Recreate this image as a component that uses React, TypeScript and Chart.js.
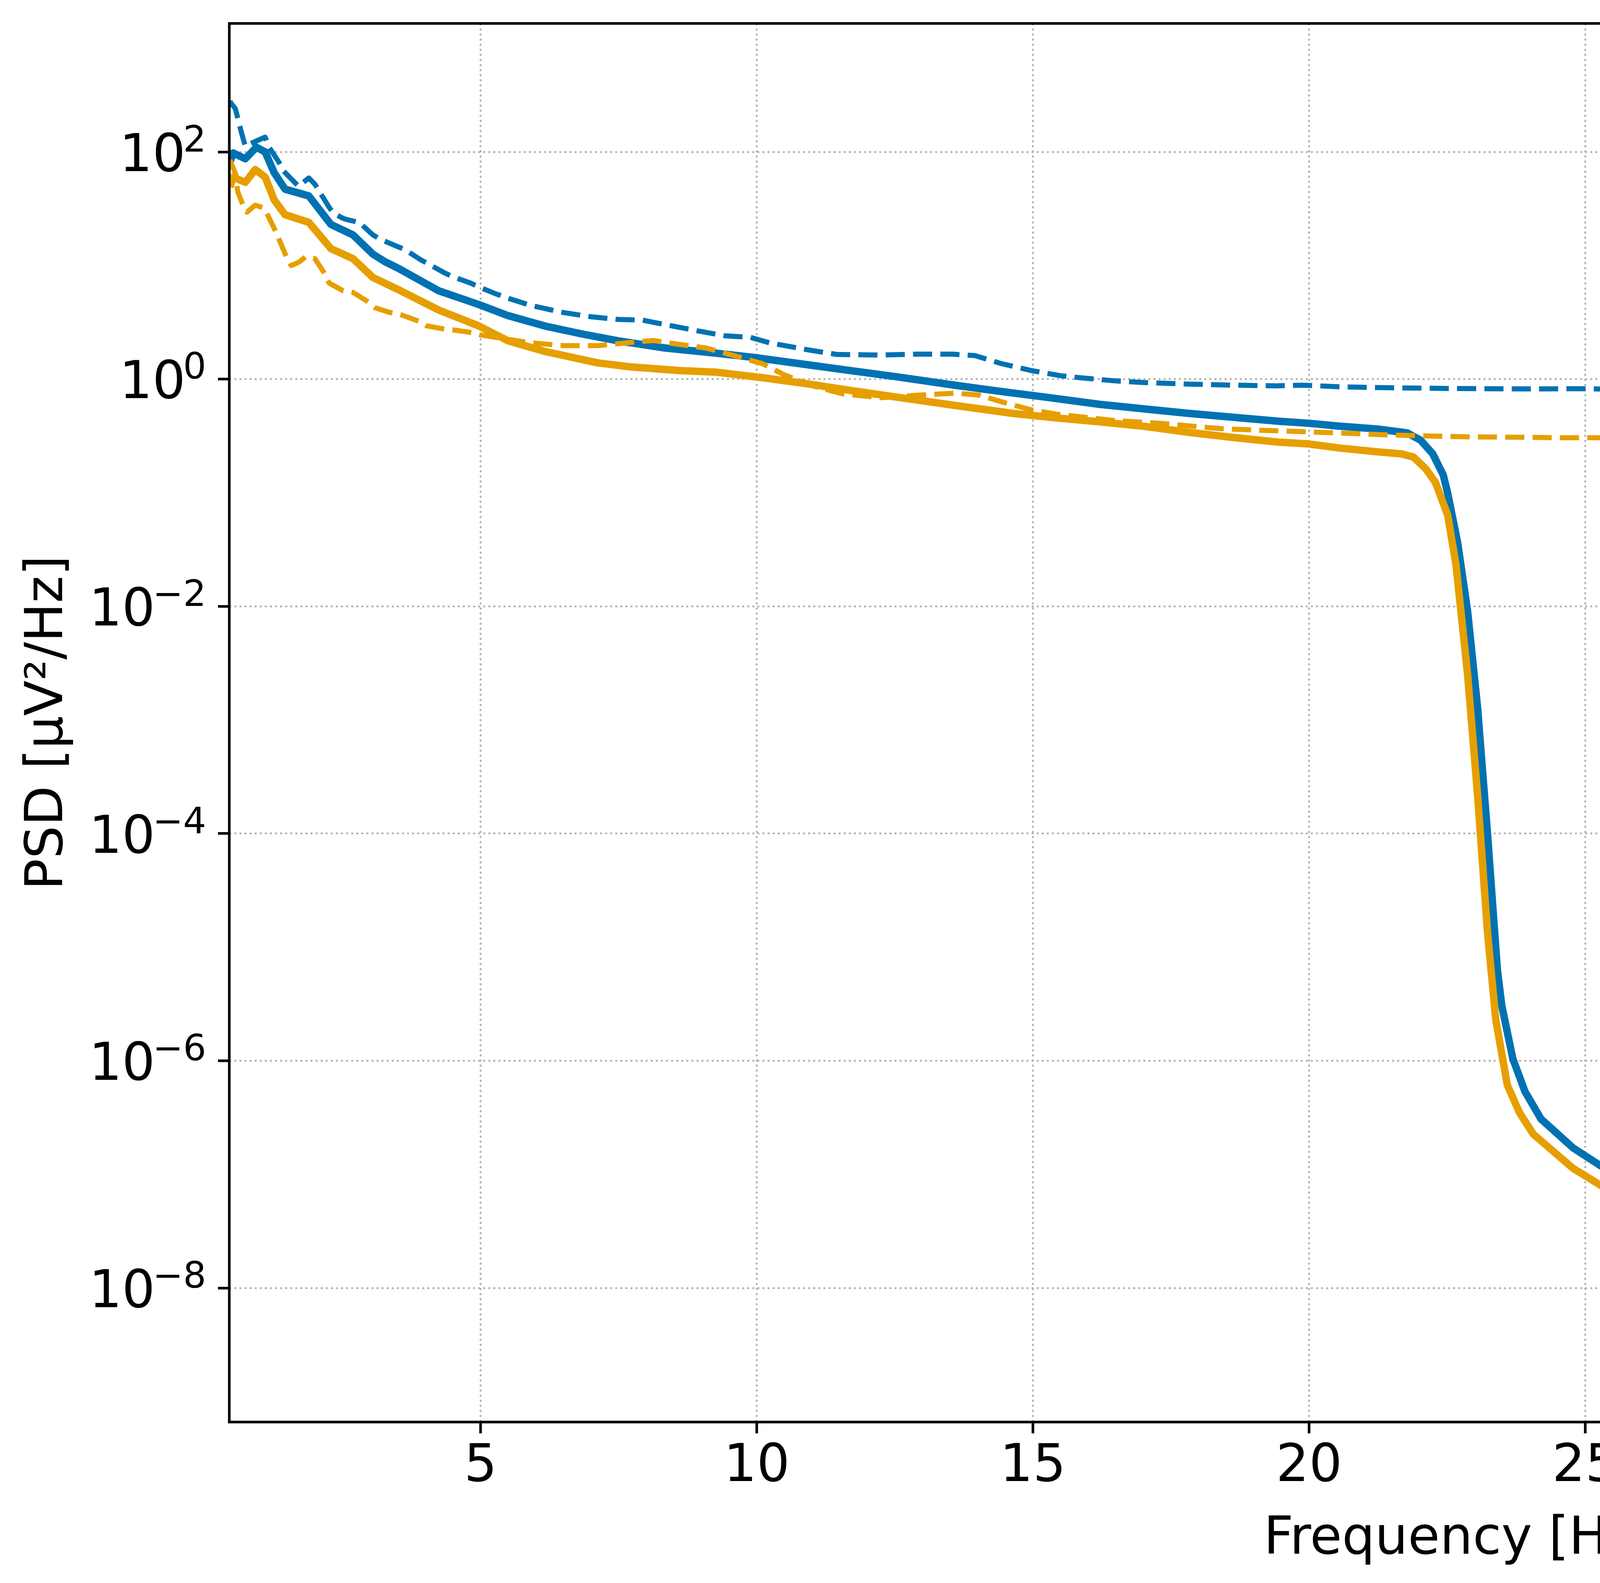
import React, { useEffect, useRef } from 'react';
import { Chart, registerables } from 'chart.js';

Chart.register(...registerables);

const W = 7031;
const H = 4052;
const FONT = "'DejaVu Sans', sans-serif";

// ---- data (frequency in Hz, PSD in µV²/Hz) ----
const rawFpzFreq = [0.46, 0.49, 0.56, 0.67, 0.74, 0.81, 1.1, 1.17, 1.35, 1.43, 1.7, 1.89, 2.0, 2.25, 2.33, 2.51, 2.63, 2.8, 3.05, 3.19, 3.48, 3.63, 3.92, 4.06, 4.35, 4.49, 4.82, 4.96, 5.29, 5.5, 5.9, 6.44, 6.98, 7.5, 7.93, 8.34, 8.88, 9.42, 9.89, 10.23, 10.9, 11.45, 12.26, 12.94, 13.55, 13.95, 14.43, 14.97, 15.51, 15.94, 16.48, 17.02, 17.83, 18.64, 19.4, 19.89, 20.54, 21.35, 22.43, 23.91, 24.92, 25.93, 26.8, 28.24, 29.68, 31.13, 32.57, 34.01, 35.17, 36.9, 38.34, 39.21, 39.93, 40.65, 41.95, 43.4, 45];
const rawFpzPsd = [280, 265, 240, 148, 112, 117, 135, 110, 81, 68, 50, 59, 52, 33, 29, 26, 25, 24, 18.6, 17, 14.8, 13.8, 11.2, 10.3, 8.6, 8.0, 7.0, 6.5, 5.6, 5.15, 4.47, 3.9, 3.55, 3.35, 3.31, 3.02, 2.69, 2.41, 2.33, 2.09, 1.82, 1.65, 1.63, 1.66, 1.66, 1.61, 1.37, 1.19, 1.07, 1.02, 0.966, 0.933, 0.904, 0.885, 0.873, 0.885, 0.857, 0.841, 0.828, 0.82, 0.824, 0.809, 0.836, 0.802, 0.813, 0.796, 0.789, 0.789, 0.782, 0.793, 0.796, 0.802, 0.869, 0.802, 0.807, 0.82, 0.836];

const eqFpzFreq = [0.46, 0.52, 0.74, 0.94, 1.1, 1.26, 1.46, 1.89, 2.29, 2.69, 3.05, 3.27, 3.52, 4.24, 4.96, 5.5, 6.17, 6.85, 7.5, 8.34, 9.28, 9.96, 10.77, 11.58, 12.53, 13.61, 14.43, 15.3, 16.21, 17.02, 17.83, 18.64, 19.45, 19.99, 20.54, 21.24, 21.78, 22.02, 22.24, 22.43, 22.51, 22.69, 22.87, 23.05, 23.23, 23.41, 23.49, 23.69, 23.91, 24.2, 24.78, 25.35, 26.08, 26.8, 27.52, 28.24, 28.96, 29.68, 30.4, 31.13, 31.85, 32.57, 33.29, 34.01, 34.74, 35.46, 36.18, 36.9, 37.62, 38.34, 39.07, 39.79, 40.51, 41.23, 41.95, 42.67, 43.4, 44.12, 44.77, 45];
const eqFpzPsd = [81, 98, 87, 110, 100, 66, 47, 41, 23, 18.6, 12.6, 10.8, 9.4, 6.0, 4.55, 3.62, 2.93, 2.49, 2.17, 1.88, 1.69, 1.55, 1.37, 1.21, 1.05, 0.881, 0.778, 0.687, 0.6, 0.547, 0.499, 0.461, 0.426, 0.409, 0.386, 0.364, 0.336, 0.29, 0.22, 0.143, 0.0989, 0.0364, 9.08e-3, 1.3e-3, 1.01e-4, 6.3e-6, 3.05e-6, 1.04e-6, 5.35e-7, 3.07e-7, 1.71e-7, 1.13e-7, 7.64e-8, 5.48e-8, 4.15e-8, 3.32e-8, 2.74e-8, 2.13e-8, 1.8e-8, 1.53e-8, 1.33e-8, 1.16e-8, 1.01e-8, 9.0e-9, 7.8e-9, 7.0e-9, 6.3e-9, 5.8e-9, 5.2e-9, 4.75e-9, 4.4e-9, 4.1e-9, 3.9e-9, 3.7e-9, 3.56e-9, 3.47e-9, 3.5e-9, 3.6e-9, 3.9e-9, 4.1e-9];

const rawPzFreq = [0.46, 0.57, 0.6, 0.72, 0.77, 0.92, 1.08, 1.15, 1.3, 1.41, 1.5, 1.57, 1.71, 1.84, 2.0, 2.15, 2.26, 2.51, 2.69, 2.94, 3.09, 3.34, 3.55, 3.88, 4.02, 4.35, 4.53, 4.84, 5.0, 5.5, 5.9, 6.51, 7.12, 7.66, 8.13, 8.6, 9.08, 9.55, 10.1, 10.5, 11.04, 11.58, 12.26, 12.94, 13.61, 14.02, 14.5, 14.97, 15.44, 16.48, 17.29, 17.94, 18.43, 19.18, 19.89, 20.54, 21.35, 22.16, 22.97, 23.88, 24.49, 25.35, 26.22, 26.94, 27.52, 28.96, 30.4, 31.85, 33.29, 34.74, 36.18, 37.62, 39.07, 39.93, 40.8, 41.95, 43.4, 44.12, 45];
const rawPzPsd = [85, 63, 45, 32, 29.5, 34, 32, 27.5, 19.5, 14.5, 11.5, 10, 10.7, 12, 11.5, 8.9, 7.0, 6.0, 5.8, 4.87, 4.25, 3.88, 3.7, 3.24, 2.95, 2.75, 2.7, 2.57, 2.45, 2.24, 2.09, 1.97, 1.97, 2.09, 2.19, 2.02, 1.88, 1.63, 1.37, 1.09, 0.865, 0.738, 0.687, 0.724, 0.752, 0.724, 0.618, 0.537, 0.491, 0.432, 0.409, 0.384, 0.366, 0.354, 0.345, 0.336, 0.324, 0.316, 0.31, 0.308, 0.305, 0.305, 0.315, 0.331, 0.323, 0.318, 0.316, 0.315, 0.317, 0.318, 0.323, 0.325, 0.33, 0.34, 0.331, 0.333, 0.336, 0.345, 0.342];

const eqPzFreq = [0.46, 0.52, 0.74, 0.92, 1.1, 1.26, 1.46, 1.89, 2.29, 2.69, 3.05, 3.52, 4.24, 4.96, 5.5, 6.17, 7.12, 7.73, 8.6, 9.28, 10.1, 10.9, 11.72, 12.6, 13.6, 14.63, 15.37, 16.21, 17.02, 17.83, 18.64, 19.45, 19.99, 20.54, 21.24, 21.67, 21.89, 22.11, 22.29, 22.51, 22.66, 22.87, 23.05, 23.23, 23.38, 23.59, 23.81, 24.06, 24.78, 25.35, 26.08, 26.8, 27.52, 28.24, 28.96, 29.68, 30.4, 31.13, 31.85, 32.57, 33.29, 34.01, 34.74, 35.46, 36.18, 36.9, 37.62, 38.34, 39.07, 39.79, 40.51, 41.23, 41.95, 42.67, 43.4, 44.12, 45];
const eqPzPsd = [49, 60, 54, 70, 60, 38, 28, 24, 14.1, 11.5, 7.85, 6.1, 4.06, 2.95, 2.17, 1.75, 1.39, 1.28, 1.19, 1.15, 1.03, 0.912, 0.792, 0.687, 0.586, 0.5, 0.458, 0.421, 0.384, 0.34, 0.306, 0.279, 0.269, 0.248, 0.229, 0.22, 0.206, 0.163, 0.123, 0.0634, 0.0233, 2.53e-3, 2.2e-4, 1.37e-5, 2.31e-6, 6.1e-7, 3.5e-7, 2.26e-7, 1.13e-7, 7.64e-8, 4.9e-8, 3.52e-8, 2.59e-8, 2.01e-8, 1.61e-8, 1.33e-8, 1.12e-8, 9.5e-9, 8.3e-9, 7.2e-9, 6.3e-9, 5.5e-9, 4.9e-9, 4.4e-9, 3.9e-9, 3.6e-9, 3.3e-9, 3.05e-9, 2.85e-9, 2.7e-9, 2.6e-9, 2.5e-9, 2.47e-9, 2.44e-9, 2.5e-9, 2.73e-9, 3.1e-9];

const seriesLabels = ['Adult Raw - Fpz–Cz', 'Adult Equalised - Fpz–Cz', 'Adult Raw - Pz–Oz', 'Adult Equalised - Pz–Oz'];
const xTickValues = [5, 10, 15, 20, 25, 30, 35, 40, 45];
const yTickExponents = [-8, -6, -4, -2, 0, 2];
const xLabel = 'Frequency [Hz]';
const yLabel = 'PSD [µV²/Hz]';

const BLUE = '#0072B2';
const ORANGE = '#E69F00';
const DASH = [49, 21];
const SOLID_W = 19;
const DASH_W = 13;

const toPoints = (f: number[], p: number[]) => f.map((x, i) => ({ x, y: p[i] }));

const decorPlugin = {
  id: 'decor',
  afterDatasetsDraw(chart: any) {
    const { ctx, chartArea: a } = chart;
    ctx.save();
    ctx.setLineDash([]);
    ctx.strokeStyle = '#000';
    ctx.lineWidth = 6.7;
    ctx.lineJoin = 'miter';
    ctx.strokeRect(a.left, a.top, a.right - a.left, a.bottom - a.top);
    ctx.restore();
  },
  afterDraw(chart: any) {
    const { ctx, chartArea: a } = chart;
    const yScale = chart.scales.y;
    ctx.save();
    // y tick labels as 10^n
    ctx.fillStyle = '#000';
    ctx.textBaseline = 'alphabetic';
    const xr = a.left - 59;
    for (const e of yTickExponents) {
      const y = yScale.getPixelForValue(Math.pow(10, e));
      const exp = e < 0 ? '\u2212' + String(-e) : String(e);
      ctx.font = `93px ${FONT}`;
      const ew = ctx.measureText(exp).width;
      ctx.textAlign = 'left';
      ctx.fillText(exp, xr - ew, y - 1);
      ctx.font = `133px ${FONT}`;
      ctx.textAlign = 'right';
      ctx.fillText('10', xr - ew + 6, y + 49);
    }
    // legend
    const lx1 = a.right - 69;
    const lx0 = lx1 - 2105;
    const ly0 = a.top + 68;
    const ly1 = ly0 + 825;
    const r = 27;
    ctx.beginPath();
    ctx.moveTo(lx0 + r, ly0);
    ctx.lineTo(lx1 - r, ly0);
    ctx.quadraticCurveTo(lx1, ly0, lx1, ly0 + r);
    ctx.lineTo(lx1, ly1 - r);
    ctx.quadraticCurveTo(lx1, ly1, lx1 - r, ly1);
    ctx.lineTo(lx0 + r, ly1);
    ctx.quadraticCurveTo(lx0, ly1, lx0, ly1 - r);
    ctx.lineTo(lx0, ly0 + r);
    ctx.quadraticCurveTo(lx0, ly0, lx0 + r, ly0);
    ctx.closePath();
    ctx.fillStyle = 'rgba(255,255,255,0.8)';
    ctx.fill();
    ctx.strokeStyle = 'rgba(204,204,204,0.8)';
    ctx.lineWidth = 7;
    ctx.setLineDash([]);
    ctx.stroke();
    const ds = chart.data.datasets;
    for (let i = 0; i < ds.length; i++) {
      const d = ds[i];
      const hy = ly0 + 107 + i * 197;
      ctx.beginPath();
      ctx.strokeStyle = d.borderColor;
      ctx.lineWidth = d.borderWidth;
      ctx.setLineDash(d.borderDash || []);
      ctx.lineCap = 'butt';
      ctx.moveTo(lx0 + 43, hy);
      ctx.lineTo(lx0 + 327, hy);
      ctx.stroke();
      ctx.setLineDash([]);
      ctx.fillStyle = '#000';
      ctx.font = `133px ${FONT}`;
      ctx.textAlign = 'left';
      ctx.textBaseline = 'alphabetic';
      ctx.fillText(d.label, lx0 + 431, ly0 + 153 + i * 197);
    }
    ctx.restore();
  },
};

export default function App() {
  const ref = useRef<HTMLCanvasElement>(null);
  useEffect(() => {
    if (!ref.current) return;
    const mk = (i: number, f: number[], p: number[], color: string, dashed: boolean) => ({
      label: seriesLabels[i],
      data: toPoints(f, p),
      borderColor: color,
      backgroundColor: color,
      borderWidth: dashed ? DASH_W : SOLID_W,
      borderDash: dashed ? DASH : [],
      borderJoinStyle: 'round',
      borderCapStyle: 'butt',
      pointRadius: 0,
      pointHoverRadius: 0,
      tension: 0,
      fill: false,
      clip: 0,
      order: 3 - i,
    });
    const chart = new Chart(ref.current, {
      type: 'line',
      data: {
        datasets: [
          mk(0, rawFpzFreq, rawFpzPsd, BLUE, true),
          mk(1, eqFpzFreq, eqFpzPsd, BLUE, false),
          mk(2, rawPzFreq, rawPzPsd, ORANGE, true),
          mk(3, eqPzFreq, eqPzPsd, ORANGE, false),
        ] as any,
      },
      options: {
        responsive: false,
        animation: false,
        devicePixelRatio: 1,
        layout: { padding: { left: 0, right: 145, top: 60, bottom: 0 } },
        plugins: { legend: { display: false }, tooltip: { enabled: false } },
        events: [],
        scales: {
          x: {
            type: 'linear',
            min: 0.45,
            max: 45,
            afterBuildTicks: (s: any) => {
              s.ticks = xTickValues.map((v) => ({ value: v }));
            },
            afterFit: (s: any) => {
              s.height = 412;
            },
            ticks: {
              font: { family: FONT, size: 133 },
              color: '#000',
              padding: 8,
              maxRotation: 0,
              autoSkip: false,
              callback: (v: any) => String(v),
            },
            grid: {
              color: '#b0b0b0',
              lineWidth: 4.5,
              drawTicks: true,
              tickLength: 29,
              tickWidth: 6.7,
              tickColor: '#000',
            },
            border: { display: false, dash: [5, 8] },
            title: {
              display: true,
              text: xLabel,
              font: { family: FONT, size: 133 },
              color: '#000',
              padding: { top: 0, bottom: 30 },
            },
          },
          y: {
            type: 'logarithmic',
            min: Math.pow(10, -9.18),
            max: Math.pow(10, 3.131),
            afterBuildTicks: (s: any) => {
              s.ticks = yTickExponents.map((e) => ({ value: Math.pow(10, e) }));
            },
            afterFit: (s: any) => {
              s.width = 587;
            },
            ticks: { display: false },
            grid: {
              color: '#b0b0b0',
              lineWidth: 4.5,
              drawTicks: true,
              tickLength: 29,
              tickWidth: 6.7,
              tickColor: '#000',
            },
            border: { display: false, dash: [5, 8] },
            title: {
              display: true,
              text: yLabel,
              font: { family: FONT, size: 133 },
              color: '#000',
              padding: { top: 45, bottom: 0 },
            },
          },
        },
      } as any,
      plugins: [decorPlugin],
    });
    return () => chart.destroy();
  }, []);
  return (
    <div style={{ position: 'fixed', left: 0, top: 0, width: W, height: H, background: '#fff' }}>
      <canvas ref={ref} width={W} height={H} style={{ width: W, height: H, display: 'block' }} />
    </div>
  );
}
